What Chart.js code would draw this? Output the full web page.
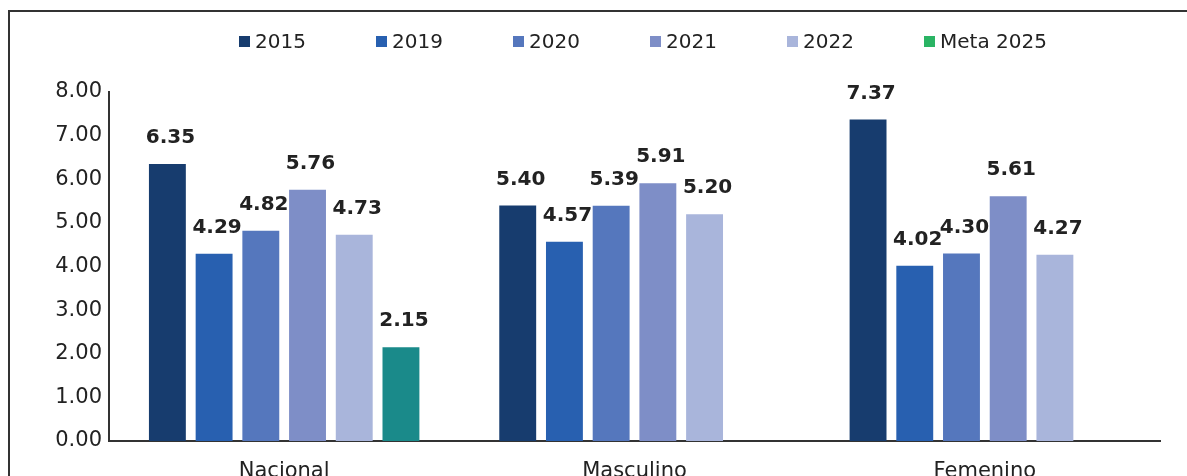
<!DOCTYPE html>
<html lang="es">
<head>
<meta charset="utf-8">
<title>Indicador por sexo</title>
<script src="https://cdn.jsdelivr.net/npm/chart.js@4.4.1/dist/chart.umd.min.js"></script>
<style>
  html, body { margin:0; padding:0; background:#fff; overflow:hidden; }
  body { width:1187px; height:476px; position:relative; font-family:"DejaVu Sans", sans-serif; }
  .frame { position:absolute; left:8px; top:10px; right:-4px; bottom:-20px;
           border-left:2px solid #333; border-top:2px solid #333; }
  .wrap { position:absolute; left:0; top:0; width:1187px; height:500px; }
  .legend { position:absolute; top:0; left:0; width:1187px; height:80px; }
  .legend .item { position:absolute; top:29px; display:flex; align-items:center;
                  font-size:20px; color:#222; white-space:nowrap; }
  .legend .box { width:11px; height:11px; margin-right:5px; }
</style>
</head>
<body>
<div class="frame"></div>
<div class="wrap"><canvas id="chart" width="1187" height="500"></canvas></div>
<div class="legend" id="legend"></div>

<script>
// ===== Data =====
const categories = ["Nacional", "Masculino", "Femenino"];
const seriesNames = ["2015", "2019", "2020", "2021", "2022", "Meta 2025"];
const v2015 = [6.35, 5.40, 7.37];
const v2019 = [4.29, 4.57, 4.02];
const v2020 = [4.82, 5.39, 4.30];
const v2021 = [5.76, 5.91, 5.61];
const v2022 = [4.73, 5.20, 4.27];
const vMeta = [2.15, null, null];
const yTicks = [0, 1, 2, 3, 4, 5, 6, 7, 8];

// ===== Style =====
const barColors = ["#173c6e", "#2860b0", "#5577bd", "#7e8ec7", "#a9b5db", "#1a8a8a"];
const legendColors = ["#173c6e", "#2860b0", "#5577bd", "#7e8ec7", "#a9b5db", "#2ab464"];
const FONT = "'DejaVu Sans', sans-serif";

const seriesValues = [v2015, v2019, v2020, v2021, v2022, vMeta];

// value labels above each bar
const valueLabels = {
  id: "valueLabels",
  afterDatasetsDraw(chart) {
    const ctx = chart.ctx;
    ctx.save();
    ctx.font = `bold 20px ${FONT}`;
    ctx.fillStyle = "#222";
    ctx.textAlign = "center";
    ctx.textBaseline = "middle";
    chart.data.datasets.forEach((ds, i) => {
      const meta = chart.getDatasetMeta(i);
      meta.data.forEach((bar, j) => {
        const v = ds.data[j];
        if (v == null) return;
        ctx.fillText(v.toFixed(2), bar.x + 3, bar.y - 26);
      });
    });
    ctx.restore();
  }
};

// fixed axis sizes so the plot area lands where it should
const fixWidth = w => scale => { scale.width = w; };
const fixHeight = h => scale => { scale.height = h; };

new Chart(document.getElementById("chart"), {
  type: "bar",
  data: {
    labels: categories,
    datasets: seriesNames.map((name, i) => ({
      label: name,
      data: seriesValues[i],
      backgroundColor: barColors[i],
      categoryPercentage: 0.8,
      barPercentage: 0.79
    }))
  },
  options: {
    responsive: false,
    animation: false,
    layout: { padding: { top: 92, right: 27, bottom: 9, left: 0 } },
    plugins: { legend: { display: false }, tooltip: { enabled: false } },
    scales: {
      x: {
        grid: { display: false },
        border: { color: "#333", width: 2 },
        ticks: { color: "#222", font: { family: FONT, size: 21 }, padding: 10 },
        afterFit: fixHeight(50)
      },
      y: {
        min: yTicks[0],
        max: yTicks[yTicks.length - 1],
        afterBuildTicks: axis => { axis.ticks = yTicks.map(v => ({ value: v })); },
        grid: { display: false, drawTicks: false },
        border: { color: "#333", width: 2 },
        ticks: { color: "#222", font: { family: FONT, size: 21 }, padding: 7,
                 callback: v => Number(v).toFixed(2) },
        afterFit: fixWidth(109)
      }
    }
  },
  plugins: [valueLabels]
});

// legend row
const legend = document.getElementById("legend");
seriesNames.forEach((name, i) => {
  const item = document.createElement("div");
  item.className = "item";
  item.style.left = (239 + i * 137) + "px";
  item.innerHTML = `<span class="box" style="background:${legendColors[i]}"></span><span>${name}</span>`;
  legend.appendChild(item);
});
</script>
</body>
</html>
